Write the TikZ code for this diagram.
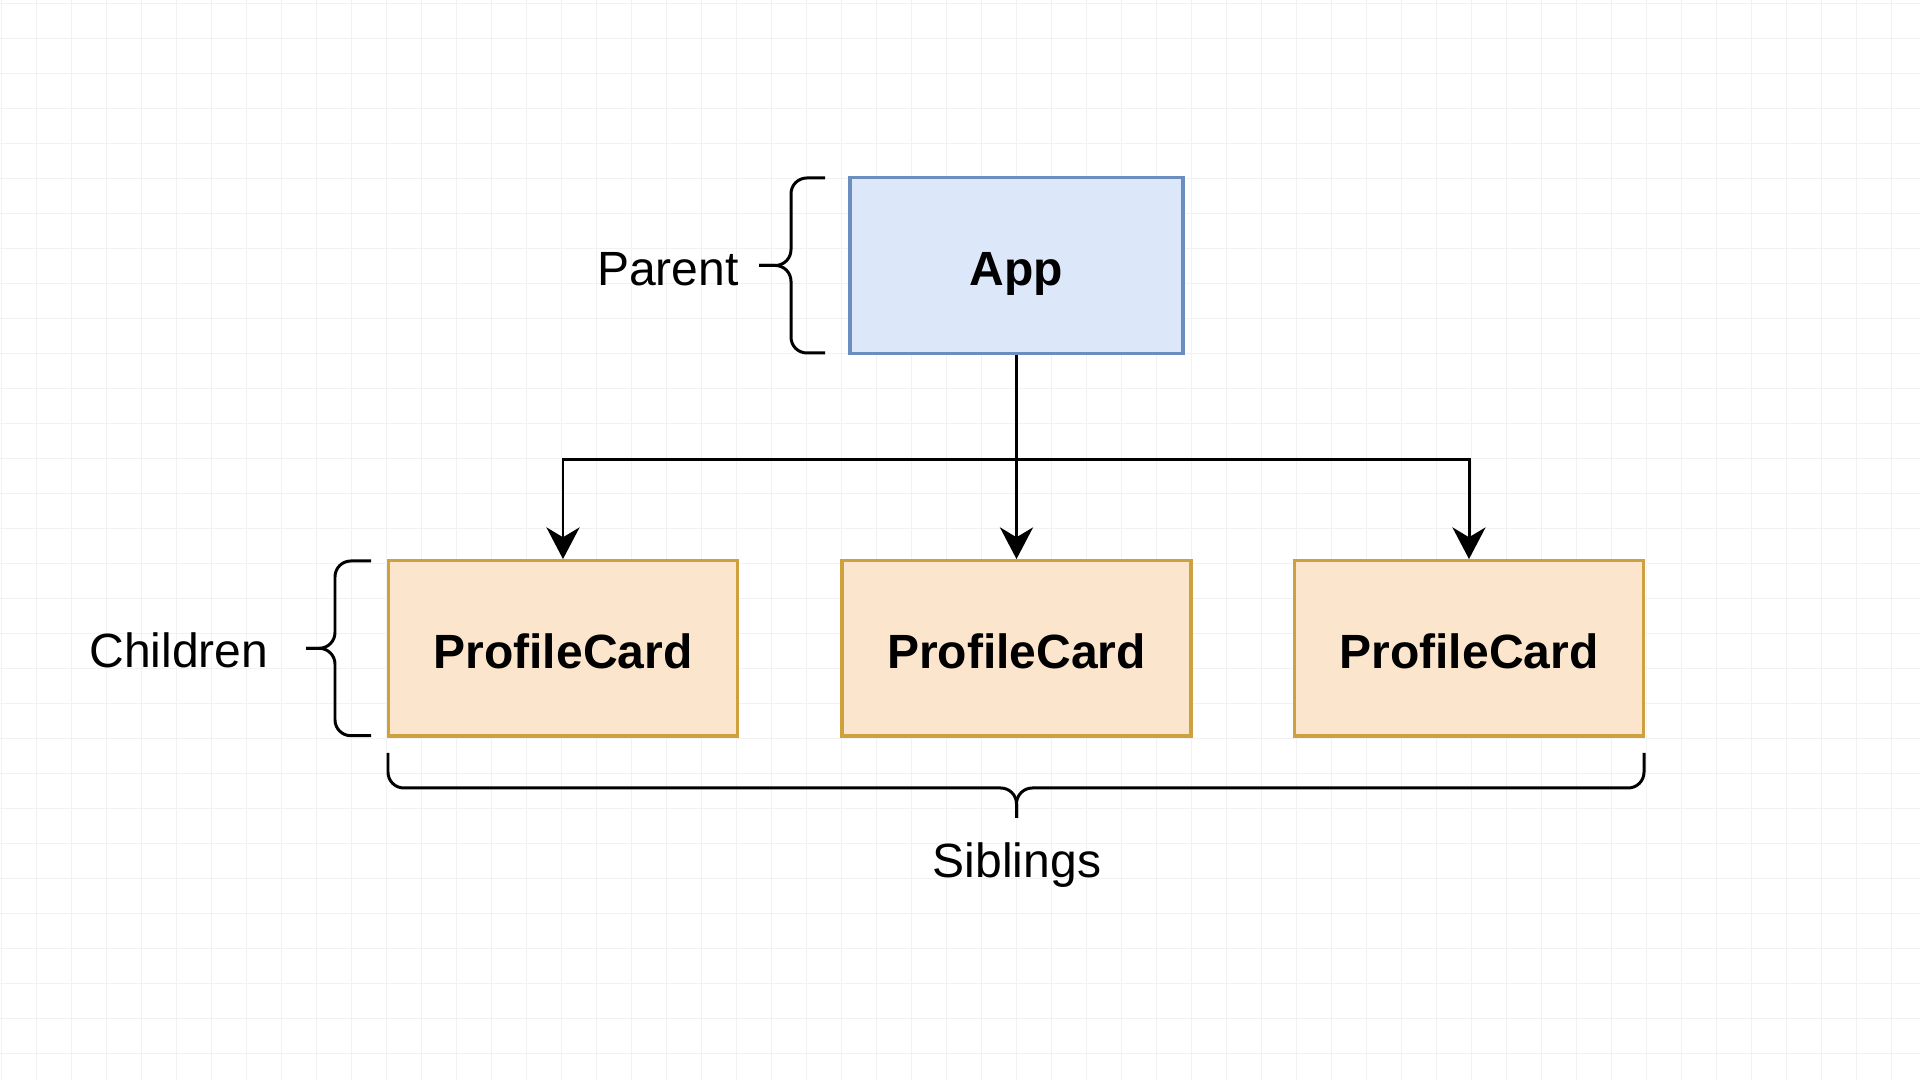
\documentclass[tikz,border=0pt]{standalone}
\usepackage{fontspec}
\setmainfont{Liberation Sans}
\usetikzlibrary{arrows.meta}

\definecolor{appfill}{HTML}{DCE7FA}
\definecolor{appline}{HTML}{6C8EBF}
\definecolor{cardfill}{HTML}{FBE5CD}
\definecolor{cardline}{HTML}{CFA13E}
\definecolor{gridgray}{HTML}{F2F2F2}

\tikzset{
  label text/.style={inner sep=0pt, font=\fontsize{13.66pt}{16pt}\selectfont, text height=13pt, text depth=1.4pt},
  appbox/.style={label text, draw=appline, fill=appfill, line width=0.95pt, minimum width=3.33cm, minimum height=1.76cm, font=\fontsize{13.66pt}{16pt}\selectfont\bfseries},
  cardbox/.style={label text, draw=cardline, fill=cardfill, line width=0.95pt, minimum width=3.49cm, minimum height=1.75cm, font=\fontsize{13.66pt}{16pt}\selectfont\bfseries},
  link/.style={line width=0.85pt, -{Stealth[length=9pt, width=9.4pt, inset=2.8pt]}},
  curly/.style={line width=0.85pt, rounded corners=4.5pt},
  gridline/.style={gridgray, line width=0.3pt}
}

\begin{document}
\begin{tikzpicture}[x=0.01cm, y=-0.01cm]
      \fill[white] (0,0) rectangle (1920,1080);
      \useasboundingbox (0,0) rectangle (1920,1080);
      % grid of the canvas
      \foreach \gx in {1.7,36.7,...,1920} \draw[gridline] (\gx,0) -- (\gx,1080);
      \foreach \gy in {3.3,38.3,...,1080} \draw[gridline] (0,\gy) -- (1920,\gy);

      \node[appbox] (app) at (1016.5,265.5) {App};
      \node[cardbox] (card1) at (563,648.3) {ProfileCard};
      \node[cardbox] (card2) at (1016.5,648.3) {ProfileCard};
      \node[cardbox] (card3) at (1469,648.3) {ProfileCard};

      \node[label text] (parent) at (668,265.6) {Parent};
      \node[label text] (children) at (179,647) {Children};
      \node[label text] (siblings) at (1017,857.5) {Siblings};

      \draw[link] (app.south) -- (card2.north);
      \draw[link] (app.south) -- ++(0,104) -| (card1.north);
      \draw[link] (app.south) -- ++(0,104) -| (card3.north);

      % braces
      \draw[curly] (825,178) -- (791,178) -- (791,265.5) -- (759,265.5);
      \draw[curly] (825,353) -- (791,353) -- (791,265.5) -- (759,265.5);
      \draw[curly] (371,561) -- (335,561) -- (335,648.3) -- (306,648.3);
      \draw[curly] (371,735.7) -- (335,735.7) -- (335,648.3) -- (306,648.3);
      \draw[curly] (388,753) -- (388,788) -- (1016.5,788) -- (1016.5,818);
      \draw[curly] (1644,753) -- (1644,788) -- (1016.5,788) -- (1016.5,818);
    \end{tikzpicture}
\end{document}
